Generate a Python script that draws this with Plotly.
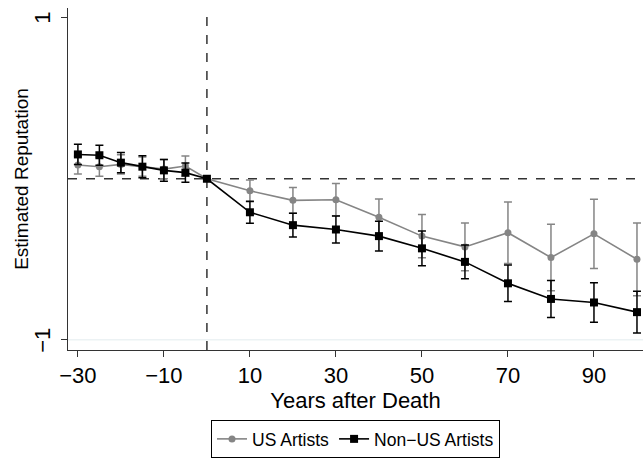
import plotly.graph_objects as go

years = [-30, -25, -20, -15, -10, -5, 0, 10, 20, 30, 40, 50, 60, 70, 80, 90, 100]
us_est = [0.085, 0.075, 0.089, 0.075, 0.060, 0.079, 0.0,
          -0.075, -0.134, -0.130, -0.239, -0.356, -0.423, -0.335, -0.489, -0.342, -0.500]
us_err = [0.055, 0.060, 0.060, 0.060, 0.060, 0.063, 0.0,
          0.068, 0.080, 0.100, 0.113, 0.134, 0.148, 0.191, 0.206, 0.215, 0.226]
non_est = [0.151, 0.146, 0.100, 0.075, 0.052, 0.038, 0.0,
           -0.208, -0.288, -0.315, -0.356, -0.432, -0.516, -0.649, -0.746, -0.768, -0.828]
non_err = [0.063, 0.062, 0.063, 0.068, 0.068, 0.060, 0.0,
           0.068, 0.074, 0.084, 0.092, 0.108, 0.105, 0.113, 0.115, 0.123, 0.129]
x_ticks = [-30, -10, 10, 30, 50, 70, 90]
y_ticks = [-1, 1]
y_ticktext = ["\u22121", "1"]

FONT = "Liberation Sans, Arial, sans-serif"
GRAY = "#858585"

fig = go.Figure()
fig.add_trace(go.Scatter(
    x=years, y=us_est, mode="lines+markers", name="US Artists",
    line=dict(color=GRAY, width=1.6),
    marker=dict(symbol="circle", size=7, color=GRAY),
    error_y=dict(type="data", array=us_err, visible=True, color=GRAY, thickness=1.5, width=4),
))
fig.add_trace(go.Scatter(
    x=years, y=non_est, mode="lines+markers", name="Non\u2212US Artists",
    line=dict(color="black", width=1.6),
    marker=dict(symbol="square", size=8, color="black"),
    error_y=dict(type="data", array=non_err, visible=True, color="black", thickness=1.5, width=4),
))

# reference lines
fig.add_shape(type="line", xref="paper", yref="y", x0=0, x1=1, y0=-1, y1=-1,
              line=dict(color="#e3ecee", width=1), layer="below")
fig.add_shape(type="line", xref="paper", yref="y", x0=0, x1=0 + 1, y0=0, y1=0,
              line=dict(color="#333333", width=1.5, dash="dash"), layer="below")
fig.add_shape(type="line", xref="x", yref="paper", x0=0, x1=0, y0=0, y1=1,
              line=dict(color="#333333", width=1.5, dash="dash"), layer="below")

# rotated y tick labels (Stata style) and y title
for val, txt in zip(y_ticks, y_ticktext):
    fig.add_annotation(x=-0.0435, xref="paper", y=val, yref="y", text=txt,
                       textangle=-90, showarrow=False, xanchor="center", yanchor="middle",
                       font=dict(size=22, color="black", family=FONT))
fig.add_annotation(x=-0.082, xref="paper", y=0.5, yref="paper", text="Estimated Reputation",
                   textangle=-90, showarrow=False, xanchor="center", yanchor="middle",
                   font=dict(size=19, color="black", family=FONT))

fig.update_layout(
    width=643, height=458,
    margin=dict(l=68, r=0, t=8, b=105),
    paper_bgcolor="white", plot_bgcolor="white",
    font=dict(family=FONT, color="black"),
    showlegend=True,
    legend=dict(orientation="h", x=0.5, xanchor="center", y=-0.205, yanchor="top",
                bordercolor="black", borderwidth=1, font=dict(size=17.5, family=FONT, color="black"),
                itemwidth=30, tracegroupgap=0),
    xaxis=dict(range=[-32.3, 101.4], tickvals=x_ticks, ticks="outside", ticklen=6,
               tickcolor="#333333", showline=True, linecolor="#333333", linewidth=1,
               showgrid=False, zeroline=False, tickfont=dict(size=22, color="black"),
               title=dict(text="Years after Death", font=dict(size=22, color="black"), standoff=3)),
    yaxis=dict(range=[-1.063, 1.06], tickvals=y_ticks, showticklabels=False,
               ticks="outside", ticklen=6, tickcolor="#333333",
               showline=True, linecolor="#333333", linewidth=1,
               showgrid=False, zeroline=False),
)

fig.write_html("out.html")
